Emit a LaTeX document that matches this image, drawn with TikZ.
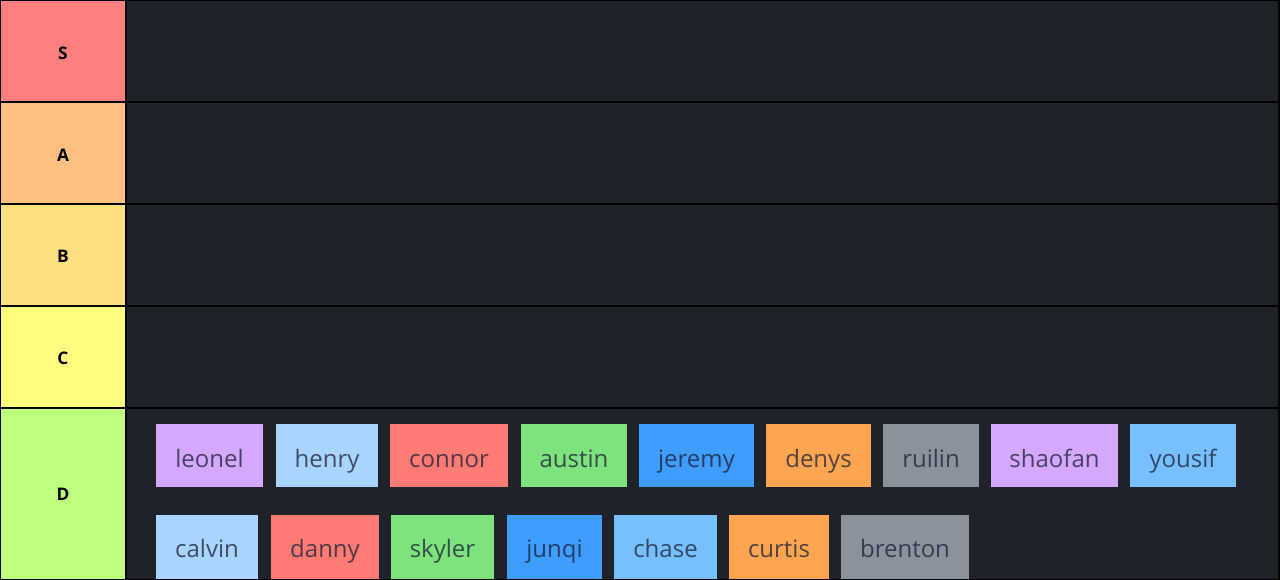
\documentclass[tikz,border=0pt]{standalone}
\usepackage{fontspec}
\setmainfont{Open Sans}
\begin{document}
\begin{tikzpicture}[x=0.75pt,y=-0.75pt,
  tierlab/.style={font=\bfseries\fontsize{13pt}{15pt}\selectfont, text=black},
  chiplab/.style={anchor=base, inner sep=0pt, outer sep=0pt,
    font=\fontsize{18pt}{20pt}\selectfont, text=txt, text opacity=0.75},
]
\definecolor{bgdark}{HTML}{1F2229}
\definecolor{txt}{HTML}{1A2036}
\definecolor{cS}{HTML}{FF7F7F}
\definecolor{cA}{HTML}{FFBF7F}
\definecolor{cB}{HTML}{FFDF7F}
\definecolor{cC}{HTML}{FFFF7F}
\definecolor{cD}{HTML}{BFFF7F}
\definecolor{purp}{HTML}{D5A8FF}
\definecolor{lblue}{HTML}{A8D5FF}
\definecolor{red}{HTML}{FF7B73}
\definecolor{grn}{HTML}{7EE27F}
\definecolor{blu}{HTML}{3E9DFF}
\definecolor{org}{HTML}{FFA552}
\definecolor{gry}{HTML}{8A929B}
\definecolor{mblue}{HTML}{77C0FF}
\useasboundingbox (0,0) rectangle (1280,580);
\fill[black] (0,0) rectangle (1280,580);
% tier rows
\foreach \name/\col/\ya/\yb in {S/cS/1/101, A/cA/103/203, B/cB/205/305, C/cC/307/407, D/cD/409/579}{
  \fill[\col] (1,\ya) rectangle (125,\yb);
  \fill[bgdark] (127,\ya) rectangle (1278,\yb);
}
\node[tierlab] (tS) at (63,53) {S};
\node[tierlab] (tA) at (63,155) {A};
\node[tierlab] (tB) at (63,256) {B};
\node[tierlab] (tC) at (63,358) {C};
\node[tierlab] (tD) at (63,494) {D};
% chips row 1
\foreach \id/\lab/\col/\xa/\xb in {
  leonel/leonel/purp/156/263, henry/henry/lblue/276/378, connor/connor/red/390/508,
  austin/austin/grn/521/627, jeremy/jeremy/blu/639/754, denys/denys/org/766/871,
  ruilin/ruilin/gry/883/979, shaofan/shaofan/purp/991/1118, yousif/yousif/mblue/1130/1236}{
  \fill[\col] (\xa,424) rectangle (\xb,487);
  \node[chiplab] (\id) at ({(\xa+\xb)/2},467) {\lab};
}
% chips row 2
\foreach \id/\lab/\col/\xa/\xb in {
  calvin/calvin/lblue/156/258, danny/danny/red/271/379, skyler/skyler/grn/391/494,
  junqi/junqi/blu/507/602, chase/chase/mblue/614/717, curtis/curtis/org/729/829,
  brenton/brenton/gry/841/969}{
  \fill[\col] (\xa,515) rectangle (\xb,579);
  \node[chiplab] (\id) at ({(\xa+\xb)/2},557) {\lab};
}
\end{tikzpicture}
\end{document}
